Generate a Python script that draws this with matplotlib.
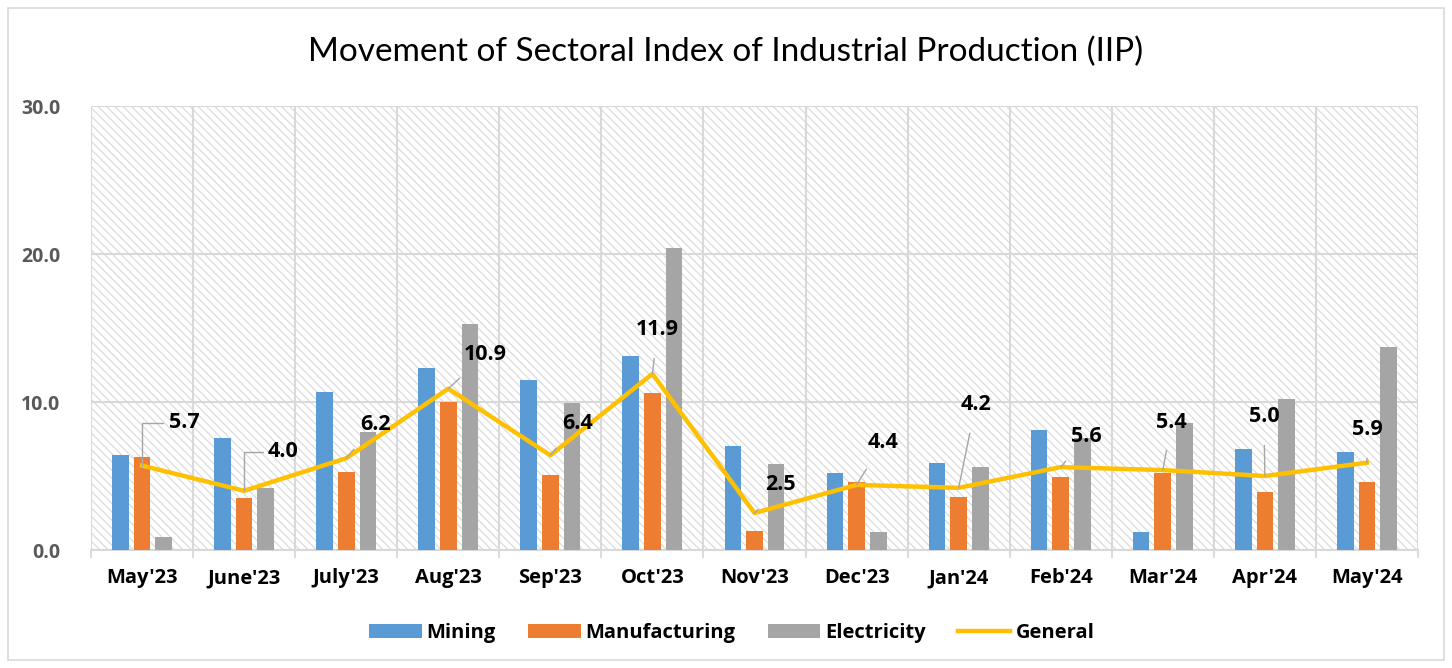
import numpy as np
import matplotlib.pyplot as plt
from matplotlib.patches import Rectangle

months = ["May'23", "June'23", "July'23", "Aug'23", "Sep'23", "Oct'23", "Nov'23",
          "Dec'23", "Jan'24", "Feb'24", "Mar'24", "Apr'24", "May'24"]
mining = [6.4, 7.6, 10.7, 12.3, 11.5, 13.1, 7.0, 5.2, 5.9, 8.1, 1.2, 6.8, 6.6]
manufacturing = [6.3, 3.5, 5.3, 10.0, 5.1, 10.6, 1.3, 4.6, 3.6, 4.9, 5.2, 3.9, 4.6]
electricity = [0.9, 4.2, 8.0, 15.3, 9.9, 20.4, 5.8, 1.2, 5.6, 7.6, 8.6, 10.2, 13.7]
general = [5.7, 4.0, 6.2, 10.9, 6.4, 11.9, 2.5, 4.4, 4.2, 5.6, 5.4, 5.0, 5.9]

# label offsets (pixels) for the General data labels
lab_dx = [43, 40, 29, 37, 27, 5, 26, 26, 17, 26, 9, -1, 0]
lab_dy = [43, 39, 34, 34, 32, 44, 28, 42, 83, 31, 48, 59, 33]
elbow = [True, True] + [False] * 11

bold_font = ['Open Sans', 'DejaVu Sans']
plt.rcParams['font.family'] = ['Lato', 'DejaVu Sans']
plt.rcParams['hatch.color'] = '#dcdcdc'
plt.rcParams['hatch.linewidth'] = 0.9

fig = plt.figure(figsize=(14.52, 6.68), dpi=100)
ax = fig.add_axes([91/1452, 118/668, 1327/1452, 444/668])

# outer frame
fig.patches.append(Rectangle((8/1452, 8/668), 1436/1452, 652/668, transform=fig.transFigure,
                             fill=False, edgecolor='#d9d9d9', linewidth=1.2))

# hatched plot background
ax.add_patch(Rectangle((0, 0), 1, 1, transform=ax.transAxes, facecolor='white',
                       edgecolor='#dcdcdc', hatch='\\\\\\\\', linewidth=0, zorder=0))

x = np.arange(len(months))
w = 0.163
off = 0.212
b1 = ax.bar(x - off, mining, w, color='#5B9BD5', zorder=3, label='Mining')
b2 = ax.bar(x, manufacturing, w, color='#ED7D31', zorder=3, label='Manufacturing')
b3 = ax.bar(x + off, electricity, w, color='#A5A5A5', zorder=3, label='Electricity')
l1, = ax.plot(x, general, color='#FFC000', linewidth=3.2, zorder=4, label='General')

for i, v in enumerate(general):
    if elbow[i]:
        arrow = dict(arrowstyle='-', color='#a6a6a6', lw=1.0, shrinkA=2, shrinkB=0,
                     connectionstyle='angle,angleA=0,angleB=90,rad=0',
                     relpos=(0, 0.5))
        ha = 'left'
        dx = lab_dx[i] - 16
    else:
        arrow = dict(arrowstyle='-', color='#a6a6a6', lw=1.0, shrinkA=11, shrinkB=0)
        ha = 'center'
        dx = lab_dx[i]
    ax.annotate(f'{v:.1f}', xy=(x[i], v), xytext=(dx, lab_dy[i]),
                textcoords='offset pixels', ha=ha, va='center',
                fontsize=15.5, fontweight='bold', family=bold_font, color='black', zorder=6,
                arrowprops=arrow)

ax.set_xlim(-0.5, len(months) - 0.5)
ax.set_ylim(0, 30)
ax.set_yticks([0, 10, 20, 30])
ax.set_yticklabels(['0.0', '10.0', '20.0', '30.0'])
ax.set_xticks(x)
ax.set_xticklabels(months)
ax.set_xticks(np.arange(-0.5, len(months)), minor=True)

ax.tick_params(axis='y', length=0, pad=22, labelsize=14, labelcolor='#595959')
ax.tick_params(axis='x', which='major', length=0, pad=13, labelsize=14.5)
ax.tick_params(axis='x', which='minor', length=6, color='#d9d9d9', width=1.3)
for lbl in ax.get_xticklabels() + ax.get_yticklabels():
    lbl.set_fontweight('bold')
    lbl.set_family(bold_font)

ax.grid(axis='y', color='#d9d9d9', linewidth=1.5, zorder=1)
ax.grid(axis='x', which='minor', color='#d9d9d9', linewidth=1.5, zorder=1)
ax.grid(axis='x', which='major', visible=False)
for s in ['top', 'left', 'right']:
    ax.spines[s].set_visible(False)
ax.spines['bottom'].set_color('#d9d9d9')
ax.spines['bottom'].set_linewidth(1.5)

fig.text(0.5, 1 - 52/668, 'Movement of Sectoral Index of Industrial Production (IIP)',
         ha='center', va='center', fontsize=24)

leg = fig.legend([b1, b2, b3, l1], ['Mining', 'Manufacturing', 'Electricity', 'General'],
                 loc='center', bbox_to_anchor=(0.504, 1 - 633/668), ncol=4,
                 frameon=False, prop={'size': 14.5, 'weight': 'bold', 'family': bold_font},
                 handlelength=2.6, handleheight=0.75, columnspacing=1.6, handletextpad=0.25)

fig.savefig('out.png', dpi=100)
